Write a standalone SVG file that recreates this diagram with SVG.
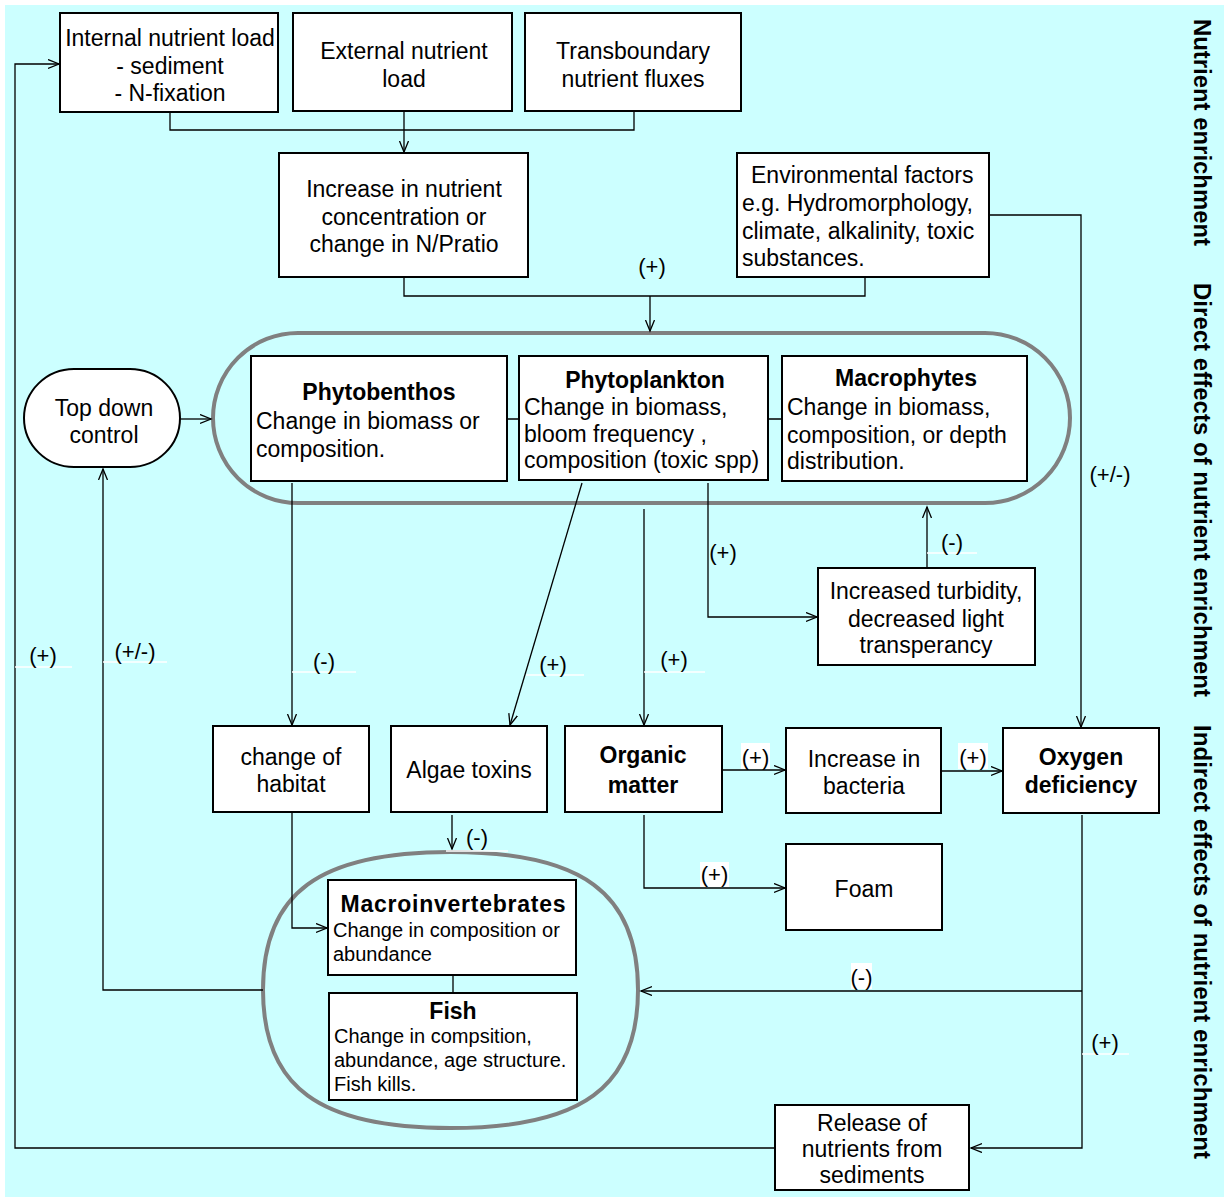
<svg xmlns="http://www.w3.org/2000/svg" width="1224" height="1197" viewBox="0 0 1224 1197">
<defs>
<style>
.box{fill:#fff;stroke:#000;stroke-width:2}
.t{font-family:'Liberation Sans',Arial,Helvetica,sans-serif;font-size:23px;fill:#000}
.c{text-anchor:middle}
.b{font-weight:bold}
.s{font-size:20px}
.lb{font-family:'Liberation Sans',Arial,Helvetica,sans-serif;font-size:22px;fill:#000;text-anchor:middle}
.ln{fill:none;stroke:#000;stroke-width:1.3}
.ar{marker-end:url(#ah)}
.wl{stroke:#fff;stroke-width:1.6}
.grp{fill:none;stroke:#808080;stroke-width:4}
.side{font-family:'Liberation Sans',Arial,Helvetica,sans-serif;font-size:24px;font-weight:bold;fill:#000}
</style>
<marker id="ah" markerUnits="userSpaceOnUse" markerWidth="14" markerHeight="12" refX="11" refY="5" orient="auto">
<path d="M0,0.5 L11,5 L0,9.5" fill="none" stroke="#000" stroke-width="1.3"/>
</marker>
</defs>
<rect x="5" y="5" width="1219" height="1192" fill="#CCFFFF"/>

<g id="groups">
<rect id="plants-group" class="grp" x="213" y="333" width="857" height="170" rx="85" ry="85"/>
<path id="animals-group" class="grp" d="M263,990 C263,893 319,852 450.5,852 C582,852 638,893 638,990 C638,1087 582,1128 450.5,1128 C319,1128 263,1087 263,990 Z"/>
</g>

<g id="connectors">
<path class="ln" d="M170,112 V130 H634 V111"/>
<path class="ln ar" d="M404,111 V152"/>
<path class="ln" d="M404,277 V296 H865 V277"/>
<path class="ln ar" d="M650,296 V331"/>
<path class="ln ar" d="M989,215 H1081 V727"/>
<path class="ln ar" d="M180,419 H211"/>
<path class="ln" d="M507,419 H519 M768,419 H782"/>
<path class="ln ar" d="M292,483 V725"/>
<path class="ln ar" d="M582,483 L510,725"/>
<path class="ln ar" d="M644,509 V725"/>
<path class="ln ar" d="M708,483 V617 H817"/>
<path class="ln ar" d="M927,567 V507"/>
<path class="ln ar" d="M452,815 V849"/>
<path class="ln ar" d="M292,812 V928 H327"/>
<path class="ln" d="M453,975 V993"/>
<path class="ln ar" d="M722,770 H785"/>
<path class="ln ar" d="M942,771 H1002"/>
<path class="ln ar" d="M644,815 V888 H785"/>
<path class="ln ar" d="M1082,815 V1148 H971"/>
<path class="ln ar" d="M1082,991 H641"/>
<path class="ln ar" d="M263,990 H103 V469"/>
<path class="ln ar" d="M775,1148 H15 V64 H59"/>
</g>

<g id="labels">
<path class="wl" d="M15,667 H72 M103,662 H167 M292,672 H356 M526,675 H584 M644,672 H705 M927,553 H977 M446,851 H508 M1082,1054 H1129"/>
<rect x="741" y="743" width="29" height="26" fill="#fff"/>
<rect x="958" y="743" width="30" height="26" fill="#fff"/>
<rect x="700" y="862" width="29" height="25" fill="#fff"/>
<rect x="851" y="963" width="21" height="26" fill="#fff"/>
<text class="lb" x="652" y="274">(+)</text>
<text class="lb" x="1110" y="482">(+/-)</text>
<text class="lb" x="723" y="560">(+)</text>
<text class="lb" x="952" y="550">(-)</text>
<text class="lb" x="43" y="663">(+)</text>
<text class="lb" x="135" y="659">(+/-)</text>
<text class="lb" x="324" y="669">(-)</text>
<text class="lb" x="553" y="672">(+)</text>
<text class="lb" x="674" y="667">(+)</text>
<text class="lb" x="477" y="845">(-)</text>
<text class="lb" x="755.5" y="765">(+)</text>
<text class="lb" x="973" y="765">(+)</text>
<text class="lb" x="714.5" y="882">(+)</text>
<text class="lb" x="861.5" y="985">(-)</text>
<text class="lb" x="1105" y="1050">(+)</text>
</g>

<g id="internal-load">
<rect class="box" x="60" y="13" width="218" height="99"/>
<text class="t c" x="170" y="46">Internal nutrient load</text>
<text class="t c" x="170" y="74">- sediment</text>
<text class="t c" x="170" y="101">- N-fixation</text>
</g>
<g id="external-load">
<rect class="box" x="293" y="13" width="219" height="98"/>
<text class="t c" x="404" y="59">External nutrient</text>
<text class="t c" x="404" y="87">load</text>
</g>
<g id="transboundary">
<rect class="box" x="525" y="13" width="216" height="98"/>
<text class="t c" x="633" y="59">Transboundary</text>
<text class="t c" x="633" y="87">nutrient fluxes</text>
</g>
<g id="nutrient-concentration">
<rect class="box" x="279" y="153" width="249" height="124"/>
<text class="t c" x="404" y="197">Increase in nutrient</text>
<text class="t c" x="404" y="224.5">concentration or</text>
<text class="t c" x="404" y="252">change in N/Pratio</text>
</g>
<g id="environmental-factors">
<rect class="box" x="737" y="153" width="252" height="124"/>
<text class="t" x="751" y="183">Environmental factors</text>
<text class="t" x="742" y="211">e.g. Hydromorphology,</text>
<text class="t" x="742" y="238.5">climate, alkalinity, toxic</text>
<text class="t" x="742" y="266">substances.</text>
</g>
<g id="top-down-control">
<rect class="box" x="24" y="369" width="156" height="98" rx="50" ry="49"/>
<text class="t c" x="104" y="416">Top down</text>
<text class="t c" x="104" y="443">control</text>
</g>
<g id="phytobenthos">
<rect class="box" x="251" y="356" width="256" height="125"/>
<text class="t c b" x="379" y="400">Phytobenthos</text>
<text class="t" x="256" y="429">Change in biomass or</text>
<text class="t" x="256" y="457">composition.</text>
</g>
<g id="phytoplankton">
<rect class="box" x="519" y="356" width="249" height="124"/>
<text class="t c b" x="645" y="388">Phytoplankton</text>
<text class="t" x="524" y="415">Change in biomass,</text>
<text class="t" x="524" y="442">bloom frequency ,</text>
<text class="t" x="524" y="468">composition (toxic spp)</text>
</g>
<g id="macrophytes">
<rect class="box" x="782" y="356" width="245" height="125"/>
<text class="t c b" x="906" y="386">Macrophytes</text>
<text class="t" x="787" y="415">Change in biomass,</text>
<text class="t" x="787" y="443">composition, or depth</text>
<text class="t" x="787" y="469">distribution.</text>
</g>
<g id="turbidity">
<rect class="box" x="818" y="568" width="217" height="97"/>
<text class="t c" x="926" y="599">Increased turbidity,</text>
<text class="t c" x="926" y="626.5">decreased light</text>
<text class="t c" x="926" y="653">transperancy</text>
</g>
<g id="change-of-habitat">
<rect class="box" x="213" y="726" width="156" height="86"/>
<text class="t c" x="291" y="765">change of</text>
<text class="t c" x="291" y="792">habitat</text>
</g>
<g id="algae-toxins">
<rect class="box" x="391" y="726" width="156" height="86"/>
<text class="t c" x="469" y="778">Algae toxins</text>
</g>
<g id="organic-matter">
<rect class="box" x="565" y="726" width="157" height="86"/>
<text class="t c b" x="643" y="763">Organic</text>
<text class="t c b" x="643" y="793">matter</text>
</g>
<g id="bacteria">
<rect class="box" x="786" y="728" width="155" height="85"/>
<text class="t c" x="864" y="767">Increase in</text>
<text class="t c" x="864" y="794">bacteria</text>
</g>
<g id="oxygen-deficiency">
<rect class="box" x="1003" y="728" width="156" height="85"/>
<text class="t c b" x="1081" y="765">Oxygen</text>
<text class="t c b" x="1081" y="793">deficiency</text>
</g>
<g id="foam">
<rect class="box" x="786" y="844" width="156" height="86"/>
<text class="t c" x="864" y="897">Foam</text>
</g>
<g id="macroinvertebrates">
<rect class="box" x="328" y="880" width="248" height="95"/>
<text class="t c b" x="453" y="912" textLength="225" lengthAdjust="spacing">Macroinvertebrates</text>
<text class="t s" x="333" y="937">Change in composition or</text>
<text class="t s" x="333" y="961">abundance</text>
</g>
<g id="fish">
<rect class="box" x="329" y="993" width="248" height="107"/>
<text class="t c b" x="453" y="1019">Fish</text>
<text class="t s" x="334" y="1043">Change in compsition,</text>
<text class="t s" x="334" y="1067">abundance, age structure.</text>
<text class="t s" x="334" y="1091">Fish kills.</text>
</g>
<g id="release-nutrients">
<rect class="box" x="775" y="1105" width="194" height="85"/>
<text class="t c" x="872" y="1131">Release of</text>
<text class="t c" x="872" y="1157">nutrients from</text>
<text class="t c" x="872" y="1183">sediments</text>
</g>

<g id="side-titles">
<text class="side" transform="translate(1194,19) rotate(90)" textLength="227" lengthAdjust="spacingAndGlyphs">Nutrient enrichment</text>
<text class="side" transform="translate(1194,283) rotate(90)" textLength="414" lengthAdjust="spacingAndGlyphs">Direct effects of nutrient enrichment</text>
<text class="side" transform="translate(1194,725) rotate(90)" textLength="434" lengthAdjust="spacingAndGlyphs">Indirect effects of nutrient enrichment</text>
</g>
</svg>
